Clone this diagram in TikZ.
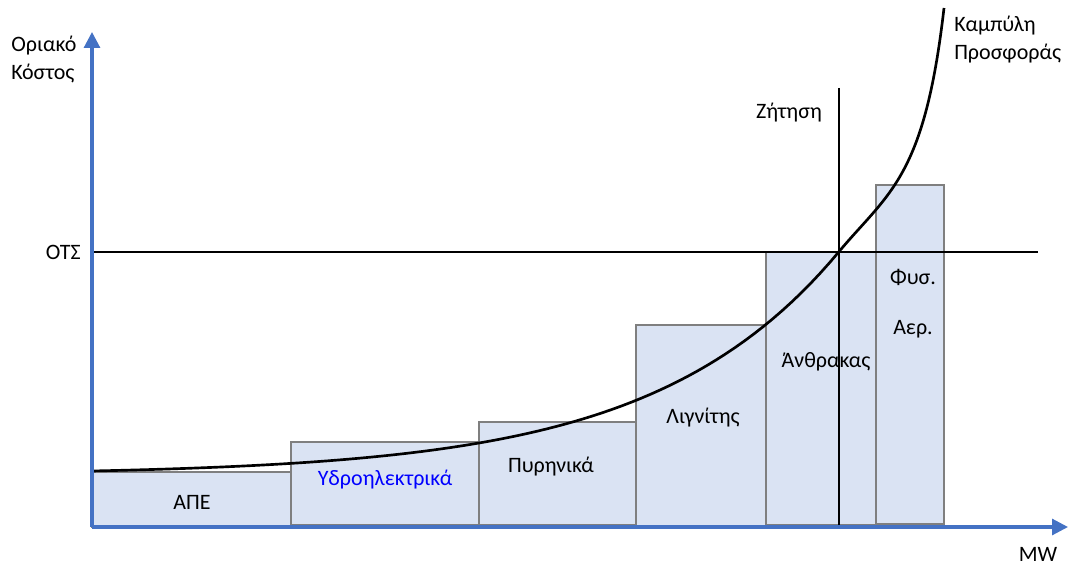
\documentclass[tikz,border=0pt]{standalone}
\usepackage{fontspec}
\setmainfont{Carlito}
\usetikzlibrary{arrows.meta}
\definecolor{axisblue}{HTML}{4472C4}
\definecolor{barfill}{HTML}{DAE3F3}
\definecolor{barline}{HTML}{7F7F7F}
\begin{document}
\begin{tikzpicture}[x=0.75pt,y=-0.75pt,
  bar/.style={fill=barfill,draw=barline,line width=0.9pt},
  axis/.style={draw=axisblue,line width=2.3pt,-{Triangle[width=12pt,length=12pt]}},
  lbl/.style={font=\fontsize{16.5}{21}\selectfont,inner sep=0pt}]
  \useasboundingbox (0,0) rectangle (1068,567);
  % bars
  \draw[bar] (92,472) rectangle (291,527);
  \draw[bar] (291,442) rectangle (479,525);
  \draw[bar] (479,422) rectangle (636,525);
  \draw[bar] (636,325) rectangle (766,526);
  \draw[bar] (766,252) rectangle (876,525);
  \draw[bar] (876,185) rectangle (944,524);
  \node[lbl] (ape) at (192,502) {ΑΠΕ};
  \node[lbl,text=blue] (hydro) at (385,480) {Υδροηλεκτρικά};
  \node[lbl] (nuc) at (551,467) {Πυρηνικά};
  \node[lbl] (lig) at (703,418) {Λιγνίτης};
  \node[lbl] (coal) at (826,362) {Άνθρακας};
  \node[lbl] (gas1) at (913,277) {Φυσ.};
  \node[lbl] (gas2) at (913,329) {Αερ.};
  % price and demand
  \coordinate (P0) at (92,252); \coordinate (P1) at (1038,252);
  \coordinate (D0) at (839,88); \coordinate (D1) at (839,527);
  \draw[line width=1.5pt] (P0)--(P1);
  \draw[line width=1.5pt] (D0)--(D1);
  \node[lbl,anchor=east] (ots) at (81,252) {ΟΤΣ};
  \node[lbl] (dem) at (789,113) {Ζήτηση};
  % supply curve
  \coordinate (C1) at (889,192); \coordinate (C2) at (924.5,178);
  \coordinate (Top) at (944,8);
  \draw[line width=2pt] plot[domain=92:839,samples=80] (\x,{471-3.95*(exp(0.0054*(\x-92))-1)})
    .. controls (C1) and (C2) .. (Top);
  \node[lbl,anchor=west,align=left] (sup) at (954,40) {Καμπύλη\\Προσφοράς};
  % axes
  \coordinate (O) at (92,527);
  \coordinate (Y) at (92,32); \coordinate (X) at (1068,527);
  \draw[axis] (O)--(Y);
  \draw[axis] (O)--(X);
  \node[lbl,anchor=west,align=left] (cost) at (11,59) {Οριακό\\Κόστος};
  \node[lbl] (mw) at (1038,554) {MW};
\end{tikzpicture}
\end{document}
